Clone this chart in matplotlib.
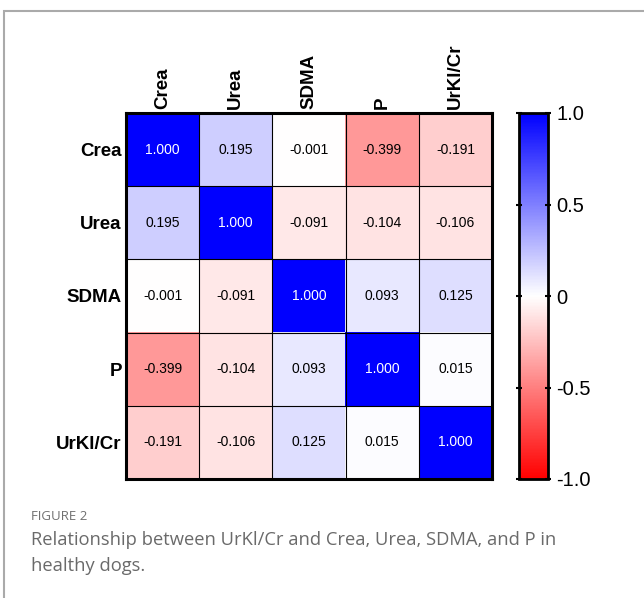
import numpy as np
import matplotlib.pyplot as plt
from matplotlib.patches import Rectangle

labels = ["Crea", "Urea", "SDMA", "P", "UrKl/Cr"]
corr = np.array([
    [1.000, 0.195, -0.001, -0.399, -0.191],
    [0.195, 1.000, -0.091, -0.104, -0.106],
    [-0.001, -0.091, 1.000, 0.093, 0.125],
    [-0.399, -0.104, 0.093, 1.000, 0.015],
    [-0.191, -0.106, 0.125, 0.015, 1.000],
])
cbar_ticks = [-1.0, -0.5, 0, 0.5, 1.0]
cbar_labels = ["-1.0", "-0.5", "0", "0.5", "1.0"]
caption = ["Relationship between UrKl/Cr and Crea, Urea, SDMA, and P in", "healthy dogs."]

plt.rcParams['font.family'] = ['Liberation Sans', 'DejaVu Sans']
fig = plt.figure(figsize=(6.44, 5.98), dpi=100)
W, H = 644, 598

# outer frame of the figure panel
fig.patches.append(Rectangle((4 / W, -0.1), 1.2, 1 - 11 / H + 0.1, transform=fig.transFigure,
                             fill=False, edgecolor='#aaaaaa', lw=1.5))

ax = fig.add_axes([126 / W, 1 - 479 / H, 366 / W, 366 / H])
im = ax.imshow(corr, cmap='bwr_r', vmin=-1, vmax=1, aspect='auto')
n = len(labels)
for i in range(n):
    for j in range(n):
        v = corr[i, j]
        ax.text(j, i, f"{v:.3f}", ha='center', va='center', fontsize=10,
                color='white' if abs(v) > 0.7 else 'black')
# grid lines between cells
for k in range(1, n):
    ax.axhline(k - 0.5, color='black', lw=0.8)
    ax.axvline(k - 0.5, color='black', lw=0.8)
for s in ax.spines.values():
    s.set_linewidth(2.2)
ax.set_xticks(range(n))
ax.set_yticks(range(n))
ax.xaxis.tick_top()
ax.set_xticklabels(labels, rotation=90, fontsize=13.5, fontweight='bold')
ax.set_yticklabels(labels, fontsize=13.5, fontweight='bold')
ax.tick_params(length=0, pad=3)

cax = fig.add_axes([519 / W, 1 - 479 / H, 29 / W, 366 / H])
cb = fig.colorbar(im, cax=cax, ticks=cbar_ticks)
cb.set_ticklabels(cbar_labels)
cb.outline.set_linewidth(2)
cax.tick_params(labelsize=14.5, length=4, width=1.5, direction='inout', pad=4)
cax.yaxis.set_ticks_position('both')
cax.yaxis.set_tick_params(labelleft=False, labelright=True)

cap_font = ['Open Sans', 'DejaVu Sans']
fig.text(31 / W, 1 - 517 / H, "FIGURE 2", fontsize=9.5, color='#707070',
         family=cap_font, va='center')
for k, line in enumerate(caption):
    fig.text(31 / W, 1 - (540 + 26 * k) / H, line, fontsize=13.2, color='#6a6a6a',
             family=cap_font, va='center')

fig.savefig("out.png", dpi=100)
